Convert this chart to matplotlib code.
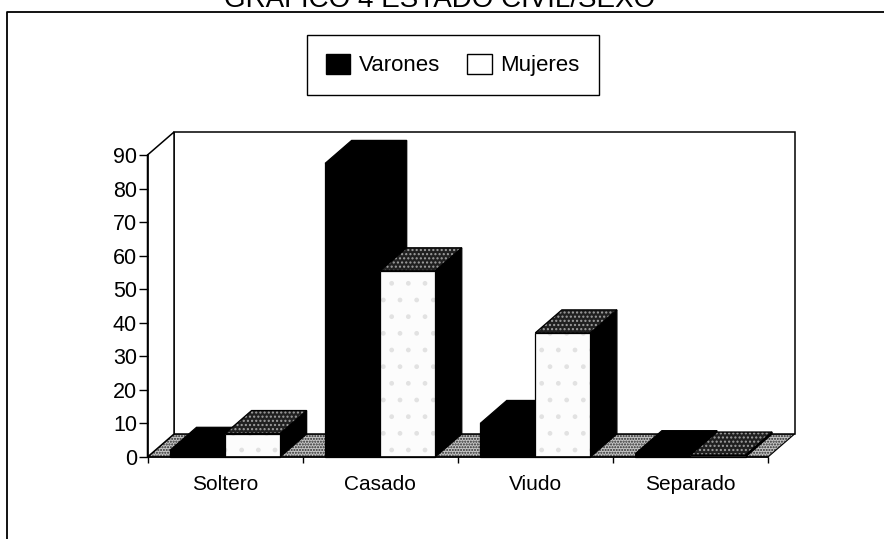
import numpy as np
import matplotlib.pyplot as plt
from matplotlib.patches import Polygon, Patch
from matplotlib.lines import Line2D

# Datos (porcentajes)
categorias = ["Soltero", "Casado", "Viudo", "Separado"]
series = ["Varones", "Mujeres"]
varones = [2, 87.5, 10, 1]
mujeres = [7, 55.5, 37, 0.6]
yticks = list(range(0, 100, 10))

plt.rcParams['font.family'] = ['Liberation Sans', 'DejaVu Sans']

W, H = 884, 539
DX, DY = 0.171, 6.85    # profundidad del efecto 3D (en unidades de datos)
ANCHO = 0.355


def poly(ax, pts, fc, hatch=None, hc=None, lw=0.9, z=1):
    # relleno (con trama opcional) y borde por separado
    ax.add_patch(Polygon(pts, closed=True, fc=fc, ec=hc if hatch else fc,
                         hatch=hatch, lw=0, zorder=z, clip_on=False))
    ax.add_patch(Polygon(pts, closed=True, fill=False, ec="black",
                         lw=lw, zorder=z, clip_on=False))


def barra(ax, x0, h, frente, tapa, z):
    x1 = x0 + ANCHO
    lado = [(x1, 0), (x1 + DX, DY), (x1 + DX, h + DY), (x1, h)]
    arriba = [(x0, h), (x1, h), (x1 + DX, h + DY), (x0 + DX, h + DY)]
    poly(ax, lado, "black", z=z)
    poly(ax, arriba, *tapa, z=z)
    poly(ax, [(x0, 0), (x1, 0), (x1, h), (x0, h)], *frente, z=z)


fig = plt.figure(figsize=(W / 100, H / 100), dpi=100)
ax = fig.add_axes([147.5 / W, 1 - 457 / H, (768 - 147.5) / W, (457 - 155) / H])
ax.set_xlim(-0.5, 3.5)
ax.set_ylim(0, 90)

# suelo, pared del fondo y pared izquierda
n = len(categorias)
poly(ax, [(-0.5, 0), (n - 0.5, 0), (n - 0.5 + DX, DY), (-0.5 + DX, DY)],
     "#c4c4c4", hatch="......", hc="#2a2a2a", lw=0.8)
poly(ax, [(-0.5 + DX, DY), (n - 0.5 + DX, DY), (n - 0.5 + DX, 90 + DY), (-0.5 + DX, 90 + DY)],
     "white", lw=1.1)
poly(ax, [(-0.5, 0), (-0.5 + DX, DY), (-0.5 + DX, 90 + DY), (-0.5, 90)], "white", lw=1.1)

x = np.arange(n)
for i in range(n):
    barra(ax, x[i] - ANCHO, varones[i], ("black",), ("black",), z=2 + 2 * i)
    barra(ax, x[i], mujeres[i], ("#fcfcfc", ".", "#e2e2e2"),
          ("#202020", "....", "#a0a0a0"), z=3 + 2 * i)

# ejes
for s in ["top", "right"]:
    ax.spines[s].set_visible(False)
ax.spines["left"].set_linewidth(1.2)
ax.spines["bottom"].set_linewidth(1.2)
ax.spines["left"].set_zorder(20)
ax.spines["bottom"].set_zorder(20)
ax.set_yticks(yticks)
ax.tick_params(axis="y", direction="out", length=6.5, width=1, pad=1, labelsize=15.5)
ax.set_xticks(np.arange(-0.5, n, 1.0))
ax.set_xticklabels([])
ax.set_xticks(x, minor=True)
ax.set_xticklabels(categorias, minor=True)
ax.tick_params(axis="x", which="major", direction="out", length=4, width=1)
ax.tick_params(axis="x", which="minor", length=0, pad=13, labelsize=15)
ax.set_facecolor("none")

# leyenda
handles = [Patch(fc="black", ec="black"), Patch(fc="white", ec="black")]
fig.legend(handles, series, loc="upper left", bbox_to_anchor=(307 / W, 1 - 35 / H),
           ncol=2, fontsize=16, frameon=True, fancybox=False, edgecolor="black",
           framealpha=1, borderpad=0.85, handlelength=1.1, handleheight=1.0,
           handletextpad=0.4, columnspacing=1.2, borderaxespad=0)

# marco exterior y titulo (cortado arriba, como en el original)
fig.add_artist(Line2D([7 / W, 7 / W, 1], [0, 1 - 12 / H, 1 - 12 / H], color="black", lw=1.3))
fig.text(440 / W, 1 - 7 / H, "GRAFICO 4 ESTADO CIVIL/SEXO", ha="center", va="baseline",
         fontsize=20)

fig.savefig("out.png", dpi=100)
